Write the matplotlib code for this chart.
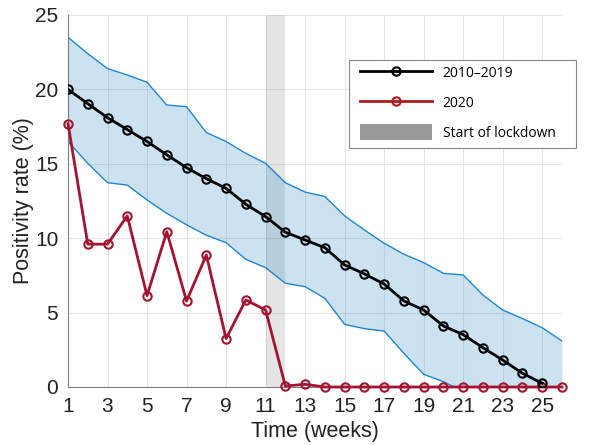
import matplotlib
matplotlib.use("Agg")
import matplotlib.pyplot as plt
from matplotlib.lines import Line2D
from matplotlib.patches import Patch, Rectangle

weeks = list(range(1, 27))
weeks_hist = list(range(1, 26))
hist_mean = [20.0, 19.04, 18.1, 17.3, 16.5, 15.6, 14.74, 14.0, 13.35, 12.28, 11.45,
             10.4, 9.88, 9.36, 8.2, 7.6, 6.92, 5.78, 5.17, 4.1, 3.52, 2.64, 1.81, 0.92, 0.25]
band_upper = [23.5, 22.4, 21.4, 20.97, 20.48, 18.95, 18.84, 17.1, 16.5, 15.7, 15.03,
              13.73, 13.1, 12.8, 11.5, 10.55, 9.66, 8.92, 8.36, 7.64, 7.53, 6.18, 5.17,
              4.6, 3.98, 3.09]
band_lower = [16.5, 15.03, 13.73, 13.57, 12.57, 11.67, 10.9, 10.2, 9.7, 8.58, 8.02,
              6.97, 6.74, 5.96, 4.21, 3.92, 3.76, 2.26, 0.85, 0.36, -0.3, -0.5, -0.5,
              -0.5, -0.5, -0.5]
rate_2020 = [17.7, 9.6, 9.6, 11.5, 6.14, 10.44, 5.78, 8.87, 3.25, 5.85, 5.17,
             0.07, 0.18, 0, 0, 0, 0, 0, 0, 0, 0, 0, 0, 0, 0, 0]
lockdown = [11, 12]
xticks = list(range(1, 27, 2))
yticks = [0, 5, 10, 15, 20, 25]
labels = ["2010\u20132019", "2020", "Start of lockdown"]

blue = "#0072BD"
red = "#A2142F"

fig = plt.figure(figsize=(6, 4.45), dpi=100)
ax = fig.add_axes([68/600, 58/445, 494/600, 372/445])

ax.axvspan(lockdown[0], lockdown[1], color="#999999", alpha=0.25, lw=0, zorder=1)
ax.fill_between(weeks, band_lower, band_upper, color=blue, alpha=0.2, lw=0, zorder=2)
ax.plot(weeks, band_upper, color="#1f86d0", lw=1.0, zorder=3)
ax.plot(weeks, band_lower, color="#1f86d0", lw=1.0, zorder=3)
ax.plot(weeks_hist, hist_mean, color="black", lw=2, marker="o", ms=6,
        mfc="none", mew=1.5, zorder=5)
ax.plot(weeks, rate_2020, color=red, lw=2, marker="o", ms=6,
        mfc="none", mew=1.5, zorder=4, clip_on=False)

ax.set_xlim(1, 26)
ax.set_ylim(0, 25)
ax.set_xticks(xticks)
ax.set_yticks(yticks)
ax.grid(True, color="#e6e6e6", lw=0.8)
ax.set_axisbelow(True)
for s in ["top", "right"]:
    ax.spines[s].set_visible(False)
for s in ["left", "bottom"]:
    ax.spines[s].set_color("#7f7f7f")
    ax.spines[s].set_linewidth(0.8)
ax.tick_params(length=0, pad=7, labelsize=15, labelcolor="#222222")
for lab in ax.get_xticklabels() + ax.get_yticklabels():
    lab.set_family("Liberation Sans")
ax.set_xlabel("Time (weeks)", fontsize=15.5, family="Liberation Sans", color="#222222", labelpad=4)
ax.set_ylabel("Positivity rate (%)", fontsize=15.5, family="Liberation Sans", color="#222222", labelpad=1)

# legend frame
frame = Rectangle((349/600, 1 - 148/445), 227/600, 88/445, transform=fig.transFigure,
                  facecolor="white", edgecolor="#888888", lw=0.8, zorder=4)
fig.patches.append(frame)

handles = [
    Line2D([], [], color="black", lw=2, marker="o", ms=6, mfc="none", mew=1.5),
    Line2D([], [], color="#b01a1a", lw=2, marker="o", ms=6, mfc="none", mew=1.5),
    Patch(facecolor="#999999", edgecolor="none"),
]
leg = fig.legend(handles, labels, loc="upper left", bbox_to_anchor=(360/600, 1 - 65/445),
                 prop={"family": "Open Sans", "size": 10}, frameon=False,
                 handlelength=5.2, handleheight=1.3,
                 labelspacing=0.97, borderpad=0, handletextpad=0.75, borderaxespad=0)
leg.set_zorder(5)

fig.savefig("out.png", dpi=100)
